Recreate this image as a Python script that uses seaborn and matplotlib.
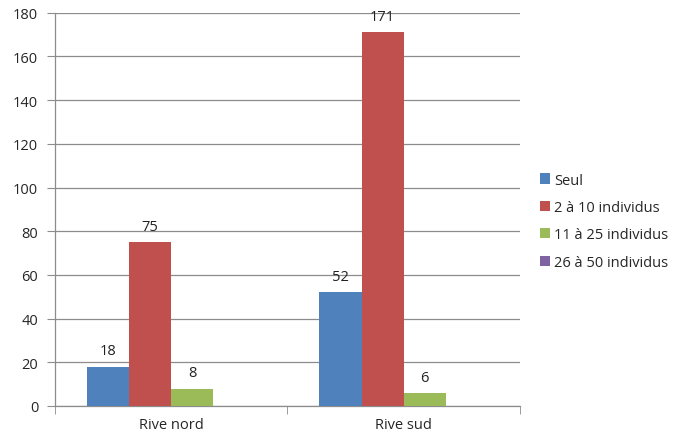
import matplotlib
matplotlib.use("Agg")
import matplotlib.pyplot as plt
import pandas as pd
import seaborn as sns

# data
rives = ["Rive nord", "Rive sud"]
groupes = ["Seul", "2 à 10 individus", "11 à 25 individus", "26 à 50 individus"]
seul = [18, 52]
deux_dix = [75, 171]
onze_vingtcinq = [8, 6]
vingtsix_cinquante = [0, 0]
couleurs = ["#4F81BD", "#C0504D", "#9BBB59", "#8064A2"]

rows = []
for g, vals in zip(groupes, [seul, deux_dix, onze_vingtcinq, vingtsix_cinquante]):
    for r, v in zip(rives, vals):
        rows.append({"rive": r, "groupe": g, "n": v})
df = pd.DataFrame(rows)

sns.set_style("white")
plt.rcParams["font.family"] = ["Open Sans", "DejaVu Sans"]

fig = plt.figure(figsize=(6.85, 4.35), dpi=100)
ax = fig.add_axes([0.080, 0.0644, 0.679, 0.904])

sns.barplot(data=df, x="rive", y="n", hue="groupe", hue_order=groupes,
            palette=couleurs, width=0.724, saturation=1, linewidth=0,
            ax=ax, zorder=3)

# value labels, only non-zero bars
for cont in ax.containers:
    labels = [f"{int(v)}" if v > 0 else "" for v in cont.datavalues]
    ax.bar_label(cont, labels=labels, padding=6, fontsize=10.5, color="#222222")

ax.set_ylim(0, 180)
ax.set_yticks(range(0, 181, 20))
ax.set_xlim(-0.5, 1.5)
ax.yaxis.grid(True, color="#8c8c8c", linewidth=0.9, zorder=0)
ax.set_axisbelow(True)
ax.set_xlabel("")
ax.set_ylabel("")

for s in ["top", "right"]:
    ax.spines[s].set_visible(False)
for s in ["left", "bottom"]:
    ax.spines[s].set_color("#8c8c8c")
    ax.spines[s].set_linewidth(0.9)

ax.tick_params(axis="y", which="major", length=6, color="#8c8c8c", labelsize=10.5, pad=6, left=True)
ax.tick_params(axis="x", which="major", length=0, labelsize=10.5, pad=8)
ax.set_xticks([-0.5, 0.5, 1.5], minor=True)
ax.tick_params(axis="x", which="minor", length=6, color="#8c8c8c", bottom=True)

leg = ax.legend(loc="center left", bbox_to_anchor=(1.03, 0.47), frameon=False,
                fontsize=10.5, handlelength=0.7, handleheight=0.7, handletextpad=0.3,
                labelspacing=0.85, borderaxespad=0)

fig.savefig("out.png", dpi=100)
